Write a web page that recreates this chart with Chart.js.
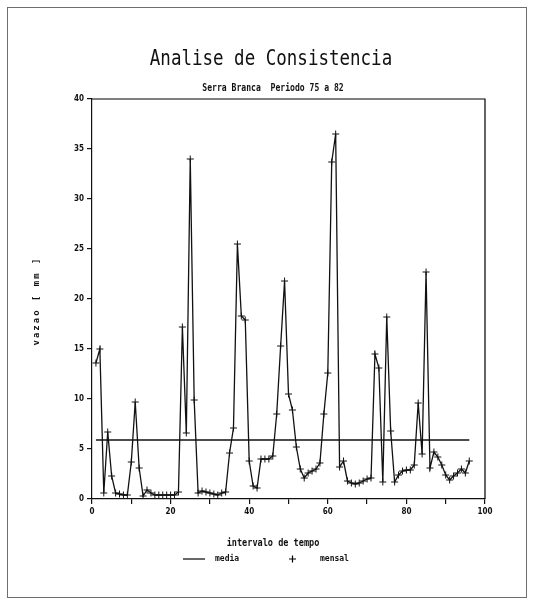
<!DOCTYPE html>
<html>
<head>
<meta charset="utf-8">
<script src="https://cdn.jsdelivr.net/npm/chart.js@4/dist/chart.umd.min.js"></script>
<style>
  html, body { margin: 0; padding: 0; background: #fff; }
  canvas { display: block; }
</style>
</head>
<body>
<canvas id="chart" width="534" height="606"></canvas>
<script>
// Data
const intervalo = [
    1, 2, 3, 4, 5, 6, 7, 8, 9, 10, 11, 12, 13, 14, 15, 16, 17, 18, 19, 20,
    21, 22, 23, 24, 25, 26, 27, 28, 29, 30, 31, 32, 33, 34, 35, 36, 37, 38, 39, 40,
    41, 42, 43, 44, 45, 46, 47, 48, 49, 50, 51, 52, 53, 54, 55, 56, 57, 58, 59, 60,
    61, 62, 63, 64, 65, 66, 67, 68, 69, 70, 71, 72, 73, 74, 75, 76, 77, 78, 79, 80,
    81, 82, 83, 84, 85, 86, 87, 88, 89, 90, 91, 92, 93, 94, 95, 96
];
const mensal = [
    13.6, 15.0, 0.6, 6.7, 2.3, 0.6, 0.5, 0.4, 0.4, 3.7, 9.7, 3.1, 0.3, 0.9, 0.6, 0.4, 0.4, 0.4, 0.4, 0.4,
    0.4, 0.7, 17.2, 6.6, 34.0, 9.9, 0.6, 0.8, 0.7, 0.6, 0.5, 0.4, 0.6, 0.7, 4.6, 7.1, 25.5, 18.3, 17.9, 3.8,
    1.3, 1.1, 4.0, 4.0, 4.0, 4.3, 8.5, 15.3, 21.8, 10.5, 8.9, 5.2, 3.0, 2.1, 2.6, 2.8, 3.0, 3.6, 8.5, 12.6,
    33.7, 36.5, 3.2, 3.8, 1.8, 1.6, 1.5, 1.6, 1.8, 2.0, 2.1, 14.5, 13.1, 1.7, 18.2, 6.8, 1.7, 2.4, 2.8, 2.9,
    2.9, 3.4, 9.6, 4.5, 22.7, 3.1, 4.7, 4.2, 3.4, 2.4, 1.9, 2.3, 2.6, 3.0, 2.6, 3.8
];
const media = 5.9;
const mediaRange = [1, 96];

const tituloTexto = 'Analise de Consistencia';
const subtituloTexto = 'Serra Branca  Periodo 75 a 82';
const eixoX = 'intervalo de tempo';
const eixoY = 'vazao [ mm ]';
const legendaMedia = 'media';
const legendaMensal = 'mensal';

const MONO = '"DejaVu Sans Mono", "Liberation Mono", monospace';
const tickFont = { family: '"DejaVu Sans Condensed", "DejaVu Sans", sans-serif', size: 8, weight: 'bold' };

// Titles, frame, axis labels and legend
const decor = {
    id: 'decor',
    afterDraw(chart) {
        const ctx = chart.ctx;
        const a = chart.chartArea;
        ctx.save();

        // outer frame
        ctx.strokeStyle = '#6e6e6e';
        ctx.lineWidth = 1;
        ctx.strokeRect(7.5, 7.5, 519, 590);

        // box around the plot
        ctx.strokeStyle = '#000';
        ctx.lineWidth = 1.2;
        ctx.beginPath();
        ctx.moveTo(a.left, a.top);
        ctx.lineTo(a.right, a.top);
        ctx.lineTo(a.right, a.bottom);
        ctx.stroke();

        ctx.fillStyle = '#111';
        ctx.textAlign = 'center';
        ctx.textBaseline = 'middle';

        // title
        ctx.save();
        ctx.translate(271, 59);
        ctx.scale(1, 1.25);
        ctx.font = '17.5px ' + MONO;
        ctx.fillText(tituloTexto, 0, 0);
        ctx.restore();

        // subtitle
        ctx.save();
        ctx.translate(273, 88);
        ctx.scale(0.9, 1.1);
        ctx.font = 'bold 9px ' + MONO;
        ctx.fillText(subtituloTexto, 0, 0);
        ctx.restore();

        // y axis label
        ctx.save();
        ctx.translate(37, 301);
        ctx.rotate(-Math.PI / 2);
        ctx.font = 'bold 9px ' + MONO;
        ctx.letterSpacing = '2px';
        ctx.fillText(eixoY, 0, 0);
        ctx.restore();

        // x axis label
        ctx.save();
        ctx.translate(273, 543);
        ctx.scale(0.95, 1.1);
        ctx.font = 'bold 9px ' + MONO;
        ctx.fillText(eixoX, 0, 0);
        ctx.restore();

        // legend
        ctx.font = 'bold 8px ' + MONO;
        ctx.textAlign = 'left';
        ctx.beginPath();
        ctx.lineWidth = 1.2;
        ctx.moveTo(183, 559);
        ctx.lineTo(205, 559);
        ctx.stroke();
        ctx.fillText(legendaMedia, 215, 559);
        ctx.beginPath();
        ctx.moveTo(289, 559);
        ctx.lineTo(296, 559);
        ctx.moveTo(292.5, 555.5);
        ctx.lineTo(292.5, 562.5);
        ctx.stroke();
        ctx.fillText(legendaMensal, 320, 559);

        ctx.restore();
    }
};

new Chart(document.getElementById('chart'), {
    type: 'line',
    data: {
        datasets: [
            {
                label: legendaMedia,
                data: mediaRange.map(x => ({ x: x, y: media })),
                borderColor: '#111',
                borderWidth: 1.3,
                pointRadius: 0
            },
            {
                label: legendaMensal,
                data: intervalo.map((x, i) => ({ x: x, y: mensal[i] })),
                borderColor: '#111',
                borderWidth: 1.3,
                tension: 0,
                pointStyle: 'cross',
                pointRadius: 3.5,
                pointBorderWidth: 1,
                pointBorderColor: '#111'
            }
        ]
    },
    options: {
        responsive: false,
        animation: false,
        layout: { padding: { left: 0, top: 99, right: 49, bottom: 77 } },
        plugins: {
            legend: { display: false },
            tooltip: { enabled: false }
        },
        scales: {
            x: {
                type: 'linear',
                min: 0,
                max: 100,
                afterFit: s => { s.height = 30; },
                ticks: {
                    stepSize: 10,
                    autoSkip: false,
                    maxRotation: 0,
                    padding: 3,
                    color: '#111',
                    font: tickFont,
                    callback: v => (v % 20 === 0 ? v : '')
                },
                grid: { drawOnChartArea: false, drawTicks: true, tickLength: 5, color: '#111', lineWidth: 1.2 },
                border: { color: '#111', width: 1.2 }
            },
            y: {
                min: 0,
                max: 40,
                afterFit: s => { s.width = 92; },
                ticks: {
                    stepSize: 5,
                    padding: 3,
                    color: '#111',
                    font: tickFont
                },
                grid: { drawOnChartArea: false, drawTicks: true, tickLength: 5, color: '#111', lineWidth: 1.2 },
                border: { color: '#111', width: 1.2 }
            }
        }
    },
    plugins: [decor]
});
</script>
</body>
</html>
